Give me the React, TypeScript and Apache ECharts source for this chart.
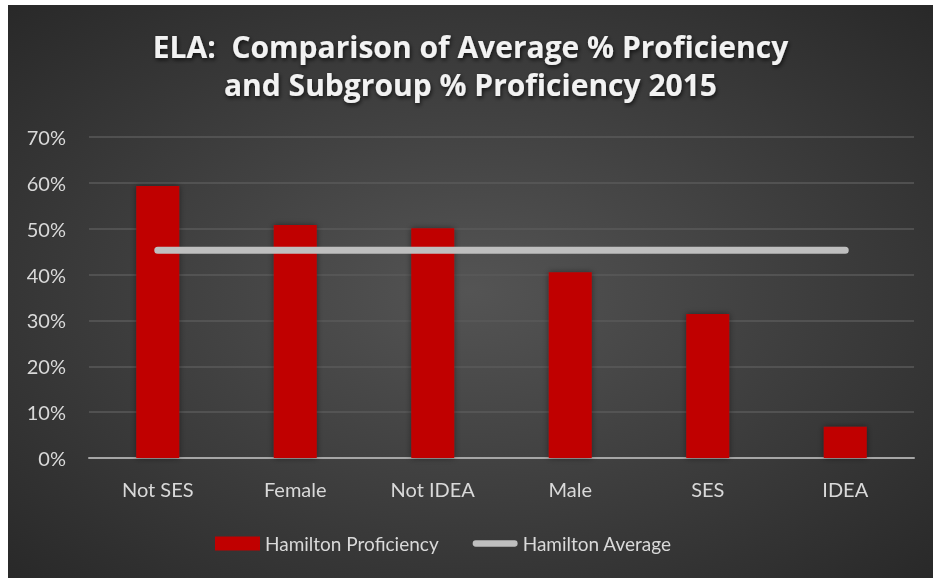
import React, { useEffect, useRef } from "react";
import * as echarts from "echarts";

const categories = ["Not SES", "Female", "Not IDEA", "Male", "SES", "IDEA"];
const proficiency = [59.3, 50.8, 50.1, 40.5, 31.4, 6.8];
const averageValue = 45.3;
const average = categories.map(() => averageValue);
const titleLines = ["ELA:  Comparison of Average % Proficiency", "and Subgroup % Proficiency 2015"];
const seriesNames = ["Hamilton Proficiency", "Hamilton Average"];

export default function App() {
  const ref = useRef<HTMLDivElement>(null);
  useEffect(() => {
    if (!ref.current) return;
    const chart = echarts.init(ref.current, null, { renderer: "svg" });
    const font = "Lato, 'Open Sans', sans-serif";
    chart.setOption({
      animation: false,
      backgroundColor: {
        type: "radial",
        x: 0.5,
        y: 0.5,
        r: 0.75,
        colorStops: [
          { offset: 0, color: "#545454" },
          { offset: 1, color: "#262626" },
        ],
      },
      title: {
        text: titleLines.join("\n"),
        left: "center",
        top: 17,
        textStyle: {
          fontFamily: "'Open Sans', sans-serif",
          fontSize: 30,
          fontWeight: "bold",
          lineHeight: 38,
          color: "#f2f2f2",
          textShadowColor: "rgba(0,0,0,0.7)",
          textShadowBlur: 4,
          textShadowOffsetX: 1,
          textShadowOffsetY: 2,
        },
      },
      legend: {
        bottom: 20,
        left: 202,
        itemWidth: 45,
        itemHeight: 14,
        itemGap: 34,
        textStyle: { color: "#d9d9d9", fontSize: 19, fontFamily: font },
        data: [
          { name: seriesNames[0], icon: "rect" },
          {
            name: seriesNames[1],
            icon: "path://M3.5,0 H46.5 A3.5,3.5 0 0 1 46.5,7 H3.5 A3.5,3.5 0 0 1 3.5,0 Z",
          },
        ],
      },
      grid: { left: 81, right: 19, top: 132, bottom: 120, containLabel: false },
      xAxis: {
        type: "category",
        data: categories,
        axisTick: { show: false },
        axisLine: { lineStyle: { color: "#a6a6a6", width: 2 } },
        axisLabel: { color: "#d9d9d9", fontSize: 20, fontFamily: font, margin: 21 },
      },
      yAxis: {
        type: "value",
        min: 0,
        max: 70,
        interval: 10,
        axisLabel: { formatter: "{value}%", color: "#d9d9d9", fontSize: 20, fontFamily: font, margin: 23 },
        axisLine: { show: false },
        axisTick: { show: false },
        splitLine: { lineStyle: { color: "#5a5a5a", width: 1.5 } },
      },
      series: [
        {
          name: seriesNames[0],
          type: "bar",
          data: proficiency,
          barWidth: 43,
          itemStyle: {
            color: "#c00000",
            shadowColor: "rgba(0,0,0,0.45)",
            shadowBlur: 6,
          },
        },
        {
          name: seriesNames[1],
          type: "line",
          data: average,
          symbol: "none",
          z: 3,
          itemStyle: { color: "#bfbfbf" },
          lineStyle: {
            color: "#bfbfbf",
            width: 7,
            cap: "round",
          },
        },
      ],
    });
    return () => chart.dispose();
  }, []);
  return (
    <div
      ref={ref}
      style={{ position: "fixed", left: 8, top: 5, width: 925, height: 573 }}
    />
  );
}
